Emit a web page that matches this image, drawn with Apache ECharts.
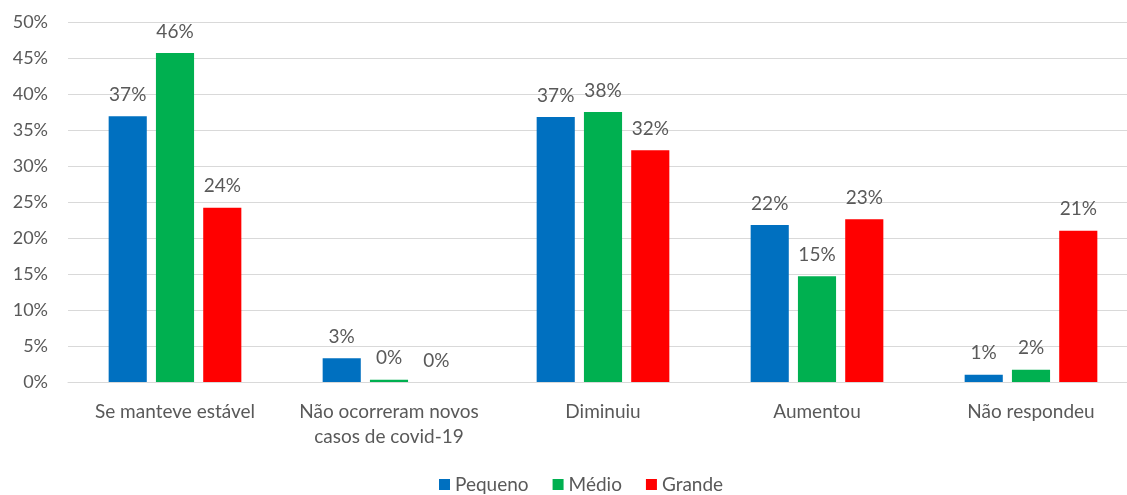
<!DOCTYPE html>
<html>
<head>
<meta charset="utf-8">
<script src="https://cdn.jsdelivr.net/npm/echarts@6/dist/echarts.min.js"></script>
<style>
html,body{margin:0;padding:0;background:#fff;}
#chart{width:1127px;height:495px;}
</style>
</head>
<body>
<div id="chart"></div>
<script>
const categories = ['Se manteve estável', 'Não ocorreram novos\ncasos de covid-19', 'Diminuiu', 'Aumentou', 'Não respondeu'];
const seriesNames = ['Pequeno', 'Médio', 'Grande'];
const pequeno = [36.9, 3.3, 36.8, 21.8, 1.0];
const medio = [45.7, 0.3, 37.5, 14.7, 1.7];
const grande = [24.2, 0.0, 32.2, 22.6, 21.0];
const colors = ['#0070C0', '#00B050', '#FF0000'];

const font = 'Lato, "Open Sans", sans-serif';
const textColor = '#595959';

const chart = echarts.init(document.getElementById('chart'));
const mk = (name, data, color) => ({
  name: name,
  type: 'bar',
  data: data,
  barGap: '24%',
  barCategoryGap: '38%',
  itemStyle: { color: color },
  label: {
    show: true,
    position: 'top',
    distance: 12,
    color: textColor,
    fontFamily: font,
    fontSize: 19,
    formatter: p => Math.round(p.value) + '%'
  }
});
chart.setOption({
  animation: false,
  grid: { left: 68, width: 1070, top: 22, height: 360, containLabel: false, outerBoundsMode: 'none' },
  legend: {
    top: 475,
    left: 439,
    padding: 0,
    itemWidth: 11,
    itemHeight: 11,
    itemGap: 24,
    icon: 'rect',
    textStyle: { color: textColor, fontFamily: font, fontSize: 19 },
    data: seriesNames
  },
  xAxis: {
    type: 'category',
    data: categories,
    axisLine: { show: true, lineStyle: { color: '#D9D9D9' } },
    axisTick: { show: false },
    axisLabel: { interval: 0, hideOverlap: false, color: textColor, fontFamily: font, fontSize: 19, margin: 17, lineHeight: 25 }
  },
  yAxis: {
    type: 'value',
    min: 0,
    max: 50,
    interval: 5,
    axisLine: { show: false },
    axisTick: { show: false },
    splitLine: { lineStyle: { color: '#D9D9D9', width: 1 } },
    axisLabel: { color: textColor, fontFamily: font, fontSize: 18, margin: 20, formatter: '{value}%' }
  },
  series: [
    mk(seriesNames[0], pequeno, colors[0]),
    mk(seriesNames[1], medio, colors[1]),
    mk(seriesNames[2], grande, colors[2])
  ]
});
</script>
</body>
</html>
